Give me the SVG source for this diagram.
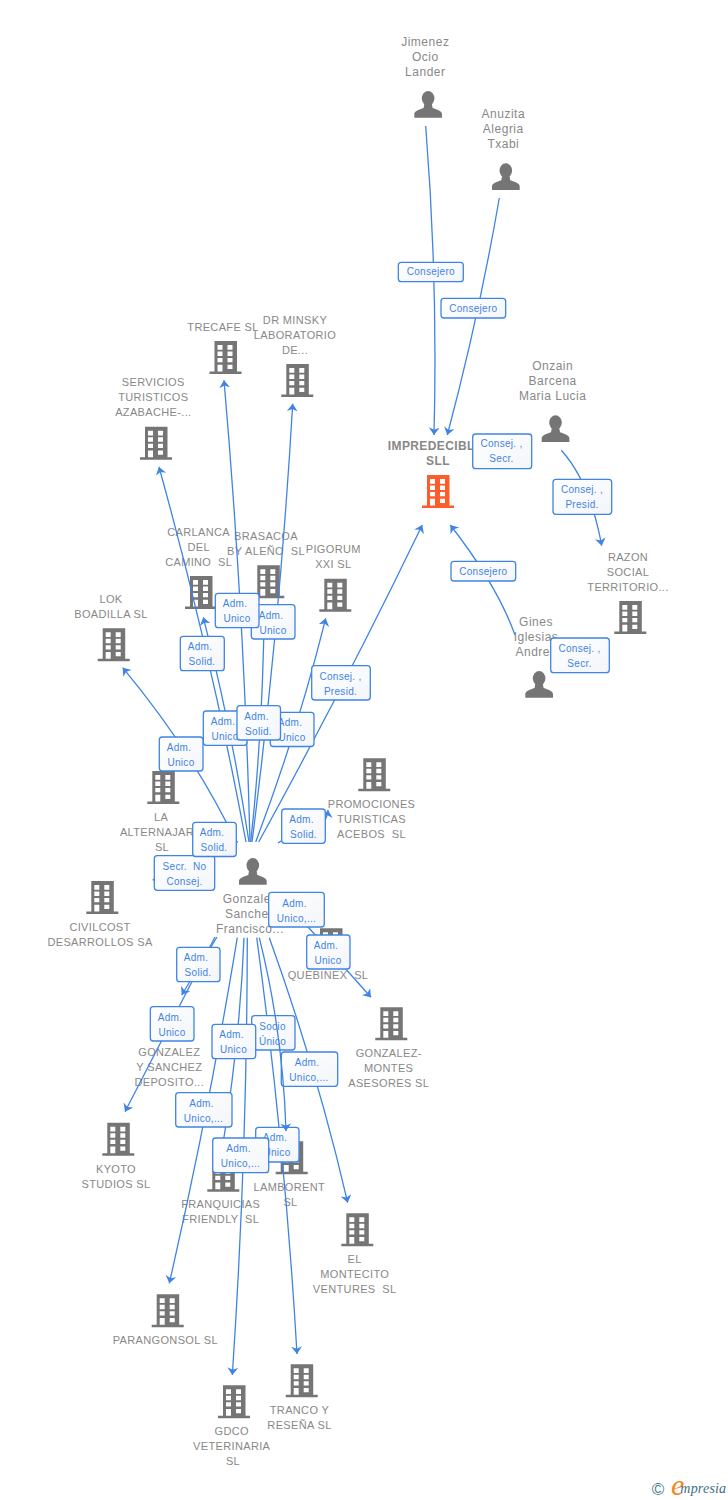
<svg xmlns="http://www.w3.org/2000/svg" width="728" height="1500" viewBox="0 0 728 1500">
<style>
text{font-family:"Liberation Sans",Arial,sans-serif;text-anchor:middle;white-space:pre}
.co{font-size:11px;letter-spacing:.35px;fill:#888}
.pe{font-size:12px;letter-spacing:.5px;fill:#888}
.main{font-size:12px;font-weight:bold;letter-spacing:.4px;fill:#888}
.lb{font-size:10px;letter-spacing:.3px;fill:#3f84e5}
.box{fill:url(#bg);stroke:#3f84e5;stroke-width:1.3}
.cn{fill:none;stroke:#3f84e5;stroke-width:1.3;marker-end:url(#ah)}
</style>
<defs>
<linearGradient id="bg" x1="0" y1="0" x2="1" y2="1"><stop offset="0" stop-color="#fff"/><stop offset="1" stop-color="#f3f5f9"/></linearGradient>
<marker id="ah" markerUnits="userSpaceOnUse" markerWidth="12" markerHeight="12" refX="7.5" refY="6" orient="auto" viewBox="0 0 12 12"><path d="M7.5,6 L0,0.6 L2.2,6 L0,11.4Z" fill="#3f84e5"/></marker>
<g id="bld"><path fill-rule="evenodd" d="M5,0H27.5V30.5H32V33H0V30.5H5ZM8,4V8.7H13V4ZM18,4V8.7H23V4ZM8,10.5V15H13V10.5ZM18,10.5V15H23V10.5ZM8,17V21.3H13V17ZM18,17V21.3H23V17ZM8,23.7V30.5H13V23.7ZM18,23.7V28H23V23.7Z"/></g>
<g id="per"><ellipse cx="13.8" cy="7.3" rx="6.3" ry="7.3"/><path d="M0,26.7V23.2C0,20 5,18.7 9.3,17 L10,13H17.6L18.3,17C22.7,18.7 27.7,20 27.7,23.2V26.7Z"/></g>
</defs>
<rect width="728" height="1500" fill="#fff"/>

<g id="nodes" fill="#757575">
<g id="n-jimenez"><use href="#per" x="414.3" y="91"/><text class="pe" x="425.3" y="46">Jimenez</text><text class="pe" x="425.3" y="61">Ocio</text><text class="pe" x="425.3" y="76">Lander</text></g>
<g id="n-anuzita"><use href="#per" x="492" y="163.3"/><text class="pe" x="503.3" y="118">Anuzita</text><text class="pe" x="503.3" y="133">Alegria</text><text class="pe" x="503.3" y="148">Txabi</text></g>
<g id="n-onzain"><use href="#per" x="541.7" y="415.3"/><text class="pe" x="552.7" y="370">Onzain</text><text class="pe" x="552.7" y="385">Barcena</text><text class="pe" x="552.7" y="400">Maria Lucia</text></g>
<g id="n-gines"><use href="#per" x="525.3" y="671"/><text class="pe" x="536" y="626">Gines</text><text class="pe" x="536" y="641">Iglesias</text><text class="pe" x="536" y="656">Andres</text></g>
<g id="n-gonzalez"><use href="#per" x="239" y="858"/><text class="pe" x="250" y="903">Gonzalez</text><text class="pe" x="250" y="918">Sanchez</text><text class="pe" x="250" y="933">Francisco...</text></g>
<g id="n-impredecible"><use href="#bld" x="422" y="475" fill="#ff5c2b"/><text class="main" x="435.5" y="450">IMPREDECIBLE</text><text class="main" x="438" y="465">SLL</text></g>
<g id="n-razon"><use href="#bld" x="614.3" y="601"/><text class="co" x="628" y="561">RAZON</text><text class="co" x="628" y="576">SOCIAL</text><text class="co" x="628" y="591">TERRITORIO...</text></g>
<g id="n-trecafe"><use href="#bld" x="209.5" y="341"/><text class="co" x="223" y="331">TRECAFE SL</text></g>
<g id="n-minsky"><use href="#bld" x="281.3" y="364"/><text class="co" x="295" y="324">DR MINSKY</text><text class="co" x="295" y="339">LABORATORIO</text><text class="co" x="295" y="354">DE...</text></g>
<g id="n-servicios"><use href="#bld" x="140" y="426.7"/><text class="co" x="153.3" y="386">SERVICIOS</text><text class="co" x="153.3" y="401">TURISTICOS</text><text class="co" x="153.3" y="416">AZABACHE-...</text></g>
<g id="n-carlanca"><use href="#bld" x="185" y="576"/><text class="co" x="198.7" y="536">CARLANCA</text><text class="co" x="198.7" y="551">DEL</text><text class="co" x="198.7" y="566">CAMINO  SL</text></g>
<g id="n-brasacoa"><use href="#bld" x="252.3" y="565.3"/><text class="co" x="266" y="540">BRASACOA</text><text class="co" x="266" y="555">BY ALEÑO  SL</text></g>
<g id="n-pigorum"><use href="#bld" x="319.3" y="578.7"/><text class="co" x="333.3" y="553">PIGORUM</text><text class="co" x="333.3" y="568">XXI SL</text></g>
<g id="n-lok"><use href="#bld" x="97.7" y="628.3"/><text class="co" x="111" y="603">LOK</text><text class="co" x="111" y="618">BOADILLA SL</text></g>
<g id="n-alternajar"><use href="#bld" x="147.3" y="771"/><text class="co" x="161" y="821">LA</text><text class="co" x="157" y="836">ALTERNAJAR</text><text class="co" x="162" y="851">SL</text></g>
<g id="n-promociones"><use href="#bld" x="358.3" y="758.3"/><text class="co" x="371.5" y="808">PROMOCIONES</text><text class="co" x="371.5" y="823">TURISTICAS</text><text class="co" x="371.5" y="838">ACEBOS  SL</text></g>
<g id="n-civilcost"><use href="#bld" x="86.3" y="881"/><text class="co" x="100" y="931">CIVILCOST</text><text class="co" x="100" y="946">DESARROLLOS SA</text></g>
<g id="n-quebinex"><use href="#bld" x="315" y="928.3"/><text class="co" x="328" y="978.5">QUEBINEX  SL</text></g>
<g id="n-gmontes"><use href="#bld" x="375.3" y="1007.3"/><text class="co" x="388.7" y="1057">GONZALEZ-</text><text class="co" x="388.7" y="1072">MONTES</text><text class="co" x="388.7" y="1087">ASESORES SL</text></g>
<g id="n-gsanchez"><use href="#bld" x="156.5" y="1006"/><text class="co" x="169.3" y="1056">GONZALEZ</text><text class="co" x="169.3" y="1071">Y SANCHEZ</text><text class="co" x="169.3" y="1086">DEPOSITO...</text></g>
<g id="n-kyoto"><use href="#bld" x="102.3" y="1122.7"/><text class="co" x="116" y="1173">KYOTO</text><text class="co" x="116" y="1188">STUDIOS SL</text></g>
<g id="n-lamborent"><use href="#bld" x="275.7" y="1141.3"/><text class="co" x="289.3" y="1191">LAMBORENT</text><text class="co" x="290.5" y="1206">SL</text></g>
<g id="n-franquicias"><use href="#bld" x="207.3" y="1158.7"/><text class="co" x="220.7" y="1208">FRANQUICIAS</text><text class="co" x="220.7" y="1223">FRIENDLY  SL</text></g>
<g id="n-montecito"><use href="#bld" x="341.3" y="1213.3"/><text class="co" x="354.7" y="1263">EL</text><text class="co" x="354.7" y="1278">MONTECITO</text><text class="co" x="354.7" y="1293">VENTURES  SL</text></g>
<g id="n-parangonsol"><use href="#bld" x="151.7" y="1294.3"/><text class="co" x="165.3" y="1344">PARANGONSOL SL</text></g>
<g id="n-gdco"><use href="#bld" x="218" y="1385.3"/><text class="co" x="231.7" y="1435">GDCO</text><text class="co" x="231.7" y="1450">VETERINARIA</text><text class="co" x="233" y="1465">SL</text></g>
<g id="n-tranco"><use href="#bld" x="285.7" y="1364.3"/><text class="co" x="299.5" y="1413.5">TRANCO Y</text><text class="co" x="299.5" y="1428.5">RESEÑA SL</text></g>
</g>

<g id="connectors">
<path class="cn" d="M425.7,126Q438,280 434,435"/>
<path class="cn" d="M499.3,198Q479,316 447.3,435"/>
<path class="cn" d="M561.3,450.3Q590,482 601.7,545.7"/>
<path class="cn" d="M515,635Q497,585 450.3,525"/>
<path class="cn" d="M246,842Q211,654 159,467"/>
<path class="cn" d="M249,842Q232,730 203.3,617.3"/>
<path class="cn" d="M250,842Q244,611 224,380.3"/>
<path class="cn" d="M252,842Q280,623 292.7,403.7"/>
<path class="cn" d="M250.7,842Q263,730 264.3,605"/>
<path class="cn" d="M255.7,842Q298,730 325.7,618.3"/>
<path class="cn" d="M258.7,842Q346,683 422.3,525"/>
<path class="cn" d="M236,842Q195,755 122.7,667.7"/>
<path class="cn" d="M238,842L200,834"/>
<path class="cn" d="M278,843C295,830 325,840 328,810"/>
<path class="cn" d="M215,866Q190,870 152.7,880"/>
<path class="cn" d="M217,937L181.7,995"/>
<path class="cn" d="M215,937L125,1111.7"/>
<path class="cn" d="M237.3,937.7Q209,1110 169.3,1283.3"/>
<path class="cn" d="M244,937.7Q240,1040 222,1150"/>
<path class="cn" d="M247.3,937.7Q247,1156 232.3,1375"/>
<path class="cn" d="M256.7,937.7Q285,1146 297,1354"/>
<path class="cn" d="M269.3,937.7Q317,1070 347.7,1202.7"/>
<path class="cn" d="M300,918L371,997.3"/>
</g>

<g id="edge-labels">
<g><rect class="box" x="398.3" y="262.3" width="65" height="19.4" rx="3"/><text class="lb" x="430.8" y="275">Consejero</text></g>
<g><rect class="box" x="441" y="298.3" width="64.7" height="19.7" rx="3"/><text class="lb" x="473.3" y="311.5">Consejero</text></g>
<g><rect class="box" x="472.7" y="434" width="59" height="34.7" rx="3"/><text class="lb" x="501.5" y="447.3">Consej. ,</text><text class="lb" x="501.5" y="462.3">Secr.</text></g>
<g><rect class="box" x="553" y="479.3" width="58.7" height="35" rx="3"/><text class="lb" x="582" y="493">Consej. ,</text><text class="lb" x="582" y="508">Presid.</text></g>
<g><rect class="box" x="451" y="561.3" width="64.7" height="19.7" rx="3"/><text class="lb" x="483.3" y="575">Consejero</text></g>
<g><rect class="box" x="550.7" y="638" width="58.6" height="34.7" rx="3"/><text class="lb" x="579.5" y="651.5">Consej. ,</text><text class="lb" x="579.5" y="666.5">Secr.</text></g>
<g><rect class="box" x="251.3" y="604.7" width="43.7" height="34.3" rx="3"/><text class="lb" x="271" y="618.5">Adm.</text><text class="lb" x="273" y="633.5">Unico</text></g>
<g><rect class="box" x="215.3" y="593.3" width="43.7" height="34.4" rx="3"/><text class="lb" x="235" y="607">Adm.</text><text class="lb" x="237" y="622">Unico</text></g>
<g><rect class="box" x="180.3" y="636.3" width="44" height="34.4" rx="3"/><text class="lb" x="200" y="650">Adm.</text><text class="lb" x="202" y="665">Solid.</text></g>
<g><rect class="box" x="311.7" y="665.7" width="58.6" height="34.3" rx="3"/><text class="lb" x="340.5" y="679.5">Consej. ,</text><text class="lb" x="340.5" y="694.5">Presid.</text></g>
<g><rect class="box" x="203.3" y="711" width="43.7" height="34.3" rx="3"/><text class="lb" x="223" y="724.5">Adm.</text><text class="lb" x="225" y="739.5">Unico</text></g>
<g><rect class="box" x="270.3" y="712.3" width="43.7" height="34.2" rx="3"/><text class="lb" x="290" y="726">Adm.</text><text class="lb" x="292" y="741">Unico</text></g>
<g><rect class="box" x="237" y="705.7" width="43.5" height="34.3" rx="3"/><text class="lb" x="256.5" y="719.5">Adm.</text><text class="lb" x="258.5" y="734.5">Solid.</text></g>
<g><rect class="box" x="159.3" y="737" width="43.7" height="34" rx="3"/><text class="lb" x="179" y="750.5">Adm.</text><text class="lb" x="181" y="765.5">Unico</text></g>
<g><rect class="box" x="154.3" y="855.7" width="60.4" height="34.6" rx="3"/><text class="lb" x="184.5" y="869.5">Secr.  No</text><text class="lb" x="184.5" y="884.5">Consej.</text></g>
<g><rect class="box" x="192.7" y="822.3" width="43.6" height="34.2" rx="3"/><text class="lb" x="212" y="836">Adm.</text><text class="lb" x="214" y="851">Solid.</text></g>
<g><rect class="box" x="281.7" y="809" width="43.6" height="34.3" rx="3"/><text class="lb" x="301.5" y="822.5">Adm.</text><text class="lb" x="303.5" y="837.5">Solid.</text></g>
<g><rect class="box" x="268.7" y="892.3" width="55.6" height="34.7" rx="3"/><text class="lb" x="294.5" y="906.5">Adm.</text><text class="lb" x="296.5" y="921.5">Unico,...</text></g>
<g><rect class="box" x="306.7" y="935" width="43.3" height="34" rx="3"/><text class="lb" x="326" y="948.5">Adm.</text><text class="lb" x="328" y="963.5">Unico</text></g>
<g><rect class="box" x="176.7" y="947.3" width="43.3" height="34.4" rx="3"/><text class="lb" x="196" y="961">Adm.</text><text class="lb" x="198" y="976">Solid.</text></g>
<g><rect class="box" x="150.3" y="1006.7" width="43.7" height="34.3" rx="3"/><text class="lb" x="170" y="1020.5">Adm.</text><text class="lb" x="172" y="1035.5">Unico</text></g>
<g><rect class="box" x="251.7" y="1015.7" width="43.3" height="34.3" rx="3"/><text class="lb" x="272.5" y="1029.5">Socio</text><text class="lb" x="272.5" y="1044.5">Único</text></g>
<g><rect class="box" x="212" y="1024.3" width="43.7" height="34.4" rx="3"/><text class="lb" x="231.5" y="1038">Adm.</text><text class="lb" x="233.5" y="1053">Unico</text></g>
<g><rect class="box" x="281.3" y="1052" width="56.4" height="34.3" rx="3"/><text class="lb" x="307" y="1065.5">Adm.</text><text class="lb" x="309" y="1080.5">Unico,...</text></g>
<g><rect class="box" x="175.7" y="1092.7" width="56.3" height="34.3" rx="3"/><text class="lb" x="201.5" y="1106.5">Adm.</text><text class="lb" x="203.5" y="1121.5">Unico,...</text></g>
<g><rect class="box" x="255.7" y="1127.3" width="43.3" height="34.7" rx="3"/><text class="lb" x="275" y="1141">Adm.</text><text class="lb" x="277" y="1156">Unico</text></g>
<g><rect class="box" x="212.7" y="1138" width="56" height="34.7" rx="3"/><text class="lb" x="238.5" y="1151.5">Adm.</text><text class="lb" x="240.5" y="1166.5">Unico,...</text></g>
</g>

<g id="connectors-over">
<path class="cn" d="M259.3,937.7Q283,1033 286,1131"/>
</g>

<g id="logo">
<text x="658" y="1495" style="font-size:17px;fill:#4a7c92">©</text>
<text x="671" y="1495" style="text-anchor:start;font-family:'Liberation Serif',serif;font-style:italic"><tspan style="font-size:30px;fill:#f08a24">e</tspan><tspan dx="-4" dy="-2" style="font-size:14px;letter-spacing:.2px;fill:#3d6d86">mpresia</tspan></text>
</g>
</svg>
